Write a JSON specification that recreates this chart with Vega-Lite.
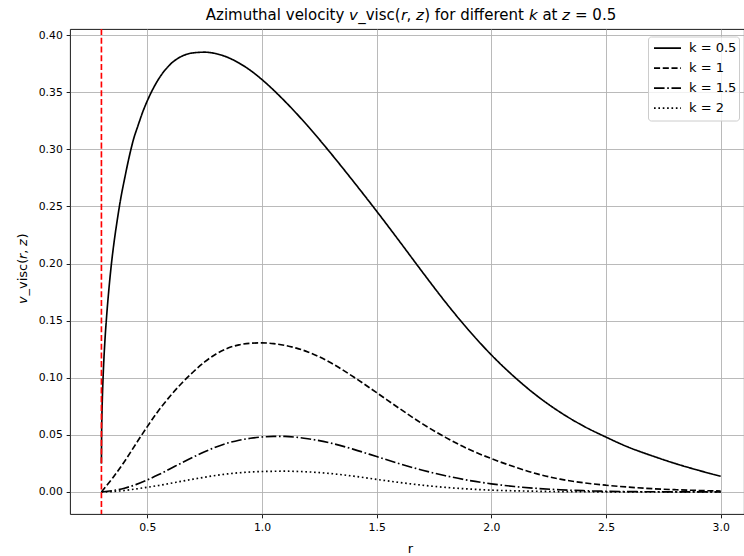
{
  "$schema": "https://vega.github.io/schema/vega-lite/v6.json",
  "autosize": {"type": "none"},
  "padding": {"left": 70, "top": 29, "right": 0, "bottom": 42},
  "width": 674,
  "height": 485,
  "title": {"text": "Azimuthal velocity 𝘷_visc(𝘳, 𝘻) for different 𝘬 at 𝘻 = 0.5", "font": "DejaVu Sans", "fontSize": 15, "fontWeight": "normal", "color": "black", "offset": 5, "dx": 4},
  "config": {
    "font": "DejaVu Sans",
    "view": {"stroke": "black", "strokeWidth": 0.9},
    "axis": {"domain": false, "gridColor": "#b0b0b0", "gridWidth": 0.88, "gridOpacity": 1, "tickColor": "black", "tickSize": 3.85, "tickWidth": 0.88, "labelFont": "DejaVu Sans", "labelFontSize": 10.8, "labelColor": "black", "labelPadding": 3.85, "titleFont": "DejaVu Sans", "titleFontSize": 13, "titleFontWeight": "normal", "titleColor": "black", "labelFlush": false, "labelOverlap": false},
    "legend": {"orient": "none", "legendX": 578, "legendY": 7.5, "fillColor": "rgba(255,255,255,0.8)", "strokeColor": "#cccccc", "cornerRadius": 3, "padding": 2, "symbolType": "stroke", "symbolSize": 729, "symbolStrokeWidth": 1.65, "symbolStrokeColor": "black", "labelFont": "DejaVu Sans", "labelFontSize": 13, "labelColor": "black", "labelOffset": 7, "rowPadding": 0, "symbolOffset": 3, "clipHeight": 19.3}
  },
  "layer": [
    {
      "data": {"values": [
        {"k": 0.5, "r": 0.3, "v": 0.025}, {"k": 0.5, "r": 0.301, "v": 0.0535}, {"k": 0.5, "r": 0.302, "v": 0.0652}, {"k": 0.5, "r": 0.304, "v": 0.0816}, {"k": 0.5, "r": 0.307, "v": 0.0991}, {"k": 0.5, "r": 0.311, "v": 0.1171}, {"k": 0.5, "r": 0.316, "v": 0.1348}, {"k": 0.5, "r": 0.323, "v": 0.1547}, {"k": 0.5, "r": 0.332, "v": 0.1762}, {"k": 0.5, "r": 0.343, "v": 0.1986}, {"k": 0.5, "r": 0.356, "v": 0.22}, {"k": 0.5, "r": 0.37, "v": 0.2393}, {"k": 0.5, "r": 0.385, "v": 0.2578}, {"k": 0.5, "r": 0.4, "v": 0.2732}, {"k": 0.5, "r": 0.42, "v": 0.2924}, {"k": 0.5, "r": 0.44, "v": 0.3088}, {"k": 0.5, "r": 0.46, "v": 0.321}, {"k": 0.5, "r": 0.48, "v": 0.3326}, {"k": 0.5, "r": 0.5, "v": 0.3424}, {"k": 0.5, "r": 0.55, "v": 0.3617}, {"k": 0.5, "r": 0.6, "v": 0.3743}, {"k": 0.5, "r": 0.65, "v": 0.3814}, {"k": 0.5, "r": 0.7, "v": 0.3844}, {"k": 0.5, "r": 0.75, "v": 0.385}, {"k": 0.5, "r": 0.8, "v": 0.3837}, {"k": 0.5, "r": 0.85, "v": 0.3805}, {"k": 0.5, "r": 0.9, "v": 0.3755}, {"k": 0.5, "r": 0.95, "v": 0.369}, {"k": 0.5, "r": 1.0, "v": 0.361}, {"k": 0.5, "r": 1.1, "v": 0.342}, {"k": 0.5, "r": 1.2, "v": 0.3203}, {"k": 0.5, "r": 1.3, "v": 0.2965}, {"k": 0.5, "r": 1.4, "v": 0.2715}, {"k": 0.5, "r": 1.5, "v": 0.2458}, {"k": 0.5, "r": 1.6, "v": 0.2193}, {"k": 0.5, "r": 1.7, "v": 0.1924}, {"k": 0.5, "r": 1.8, "v": 0.1662}, {"k": 0.5, "r": 1.9, "v": 0.1419}, {"k": 0.5, "r": 2.0, "v": 0.12}, {"k": 0.5, "r": 2.1, "v": 0.1008}, {"k": 0.5, "r": 2.2, "v": 0.084}, {"k": 0.5, "r": 2.3, "v": 0.0698}, {"k": 0.5, "r": 2.4, "v": 0.0579}, {"k": 0.5, "r": 2.5, "v": 0.048}, {"k": 0.5, "r": 2.6, "v": 0.039}, {"k": 0.5, "r": 2.7, "v": 0.0317}, {"k": 0.5, "r": 2.8, "v": 0.025}, {"k": 0.5, "r": 2.9, "v": 0.0191}, {"k": 0.5, "r": 3.0, "v": 0.0137},
        {"k": 1, "r": 0.3, "v": 0}, {"k": 1, "r": 0.35, "v": 0.0125}, {"k": 1, "r": 0.4, "v": 0.0265}, {"k": 1, "r": 0.45, "v": 0.042}, {"k": 1, "r": 0.5, "v": 0.0572}, {"k": 1, "r": 0.55, "v": 0.0715}, {"k": 1, "r": 0.6, "v": 0.084}, {"k": 1, "r": 0.65, "v": 0.0952}, {"k": 1, "r": 0.7, "v": 0.105}, {"k": 1, "r": 0.75, "v": 0.1138}, {"k": 1, "r": 0.8, "v": 0.1208}, {"k": 1, "r": 0.85, "v": 0.1258}, {"k": 1, "r": 0.9, "v": 0.1288}, {"k": 1, "r": 0.95, "v": 0.1302}, {"k": 1, "r": 1.0, "v": 0.1305}, {"k": 1, "r": 1.05, "v": 0.1299}, {"k": 1, "r": 1.1, "v": 0.1283}, {"k": 1, "r": 1.15, "v": 0.1259}, {"k": 1, "r": 1.2, "v": 0.1226}, {"k": 1, "r": 1.3, "v": 0.1131}, {"k": 1, "r": 1.4, "v": 0.1006}, {"k": 1, "r": 1.5, "v": 0.0869}, {"k": 1, "r": 1.6, "v": 0.073}, {"k": 1, "r": 1.7, "v": 0.0596}, {"k": 1, "r": 1.8, "v": 0.0478}, {"k": 1, "r": 1.9, "v": 0.0375}, {"k": 1, "r": 2.0, "v": 0.0292}, {"k": 1, "r": 2.1, "v": 0.022}, {"k": 1, "r": 2.2, "v": 0.0158}, {"k": 1, "r": 2.3, "v": 0.0112}, {"k": 1, "r": 2.4, "v": 0.0081}, {"k": 1, "r": 2.5, "v": 0.0059}, {"k": 1, "r": 2.6, "v": 0.0042}, {"k": 1, "r": 2.7, "v": 0.0029}, {"k": 1, "r": 2.8, "v": 0.002}, {"k": 1, "r": 2.9, "v": 0.0013}, {"k": 1, "r": 3.0, "v": 0.0008},
        {"k": 1.5, "r": 0.3, "v": 0}, {"k": 1.5, "r": 0.35, "v": 0.0012}, {"k": 1.5, "r": 0.4, "v": 0.0033}, {"k": 1.5, "r": 0.45, "v": 0.0064}, {"k": 1.5, "r": 0.5, "v": 0.0105}, {"k": 1.5, "r": 0.55, "v": 0.0152}, {"k": 1.5, "r": 0.6, "v": 0.0203}, {"k": 1.5, "r": 0.65, "v": 0.0255}, {"k": 1.5, "r": 0.7, "v": 0.0305}, {"k": 1.5, "r": 0.75, "v": 0.0352}, {"k": 1.5, "r": 0.8, "v": 0.0394}, {"k": 1.5, "r": 0.85, "v": 0.0428}, {"k": 1.5, "r": 0.9, "v": 0.0453}, {"k": 1.5, "r": 0.95, "v": 0.047}, {"k": 1.5, "r": 1.0, "v": 0.0481}, {"k": 1.5, "r": 1.05, "v": 0.0486}, {"k": 1.5, "r": 1.1, "v": 0.0486}, {"k": 1.5, "r": 1.15, "v": 0.0479}, {"k": 1.5, "r": 1.2, "v": 0.0466}, {"k": 1.5, "r": 1.3, "v": 0.0428}, {"k": 1.5, "r": 1.4, "v": 0.0373}, {"k": 1.5, "r": 1.5, "v": 0.031}, {"k": 1.5, "r": 1.6, "v": 0.0247}, {"k": 1.5, "r": 1.7, "v": 0.019}, {"k": 1.5, "r": 1.8, "v": 0.0142}, {"k": 1.5, "r": 1.9, "v": 0.0102}, {"k": 1.5, "r": 2.0, "v": 0.0071}, {"k": 1.5, "r": 2.1, "v": 0.0048}, {"k": 1.5, "r": 2.2, "v": 0.0031}, {"k": 1.5, "r": 2.3, "v": 0.0019}, {"k": 1.5, "r": 2.4, "v": 0.0011}, {"k": 1.5, "r": 2.5, "v": 0.0006}, {"k": 1.5, "r": 2.6, "v": 0.0003}, {"k": 1.5, "r": 2.8, "v": 0.0001}, {"k": 1.5, "r": 3.0, "v": 0},
        {"k": 2, "r": 0.3, "v": 0}, {"k": 2, "r": 0.35, "v": 0.0004}, {"k": 2, "r": 0.4, "v": 0.0013}, {"k": 2, "r": 0.45, "v": 0.0026}, {"k": 2, "r": 0.5, "v": 0.0041}, {"k": 2, "r": 0.55, "v": 0.0057}, {"k": 2, "r": 0.6, "v": 0.0075}, {"k": 2, "r": 0.65, "v": 0.0094}, {"k": 2, "r": 0.7, "v": 0.0112}, {"k": 2, "r": 0.75, "v": 0.0129}, {"k": 2, "r": 0.8, "v": 0.0145}, {"k": 2, "r": 0.85, "v": 0.0158}, {"k": 2, "r": 0.9, "v": 0.0168}, {"k": 2, "r": 0.95, "v": 0.0175}, {"k": 2, "r": 1.0, "v": 0.0179}, {"k": 2, "r": 1.05, "v": 0.0181}, {"k": 2, "r": 1.1, "v": 0.0182}, {"k": 2, "r": 1.15, "v": 0.018}, {"k": 2, "r": 1.2, "v": 0.0176}, {"k": 2, "r": 1.3, "v": 0.0161}, {"k": 2, "r": 1.4, "v": 0.0138}, {"k": 2, "r": 1.5, "v": 0.011}, {"k": 2, "r": 1.6, "v": 0.0083}, {"k": 2, "r": 1.7, "v": 0.0059}, {"k": 2, "r": 1.8, "v": 0.004}, {"k": 2, "r": 1.9, "v": 0.0026}, {"k": 2, "r": 2.0, "v": 0.0016}, {"k": 2, "r": 2.1, "v": 0.001}, {"k": 2, "r": 2.2, "v": 0.0006}, {"k": 2, "r": 2.3, "v": 0.0003}, {"k": 2, "r": 2.5, "v": 0.0001}, {"k": 2, "r": 2.7, "v": 0}, {"k": 2, "r": 3.0, "v": 0}
      ]},
      "mark": {"type": "line", "color": "black", "strokeWidth": 1.65, "interpolate": "monotone", "clip": true},
      "encoding": {
        "x": {"field": "r", "type": "quantitative", "scale": {"domain": [0.163, 3.1016], "nice": false, "zero": false}, "axis": {"values": [0.5, 1.0, 1.5, 2.0, 2.5, 3.0], "format": ".1f", "title": "r", "titleBaseline": "alphabetic", "titleY": 38, "titleX": 340}},
        "y": {"field": "v", "type": "quantitative", "scale": {"domain": [-0.0193, 0.4053], "nice": false, "zero": false}, "axis": {"values": [0, 0.05, 0.1, 0.15, 0.2, 0.25, 0.3, 0.35, 0.4], "format": ".2f", "title": "𝘷_visc(𝘳, 𝘻)", "titleBaseline": "alphabetic", "titleX": -44, "titleY": 239, "titleAlign": "center", "titleAngle": 270}},
        "strokeDash": {"field": "k", "type": "nominal", "scale": {"domain": [0.5, 1, 1.5, 2], "range": [[1, 0], [6.1, 2.64], [10.56, 2.64, 1.65, 2.64], [1.65, 2.72]]}, "legend": {"title": null, "labelExpr": "'k = ' + datum.label", "clipHeight": 19.3, "rowPadding": 0}}
      }
    },
    {
      "data": {"values": [{"r": 0.3}]},
      "mark": {"type": "rule", "color": "red", "strokeWidth": 1.65, "strokeDash": [6.1, 2.64]},
      "encoding": {"x": {"field": "r", "type": "quantitative"}}
    }
  ]
}
